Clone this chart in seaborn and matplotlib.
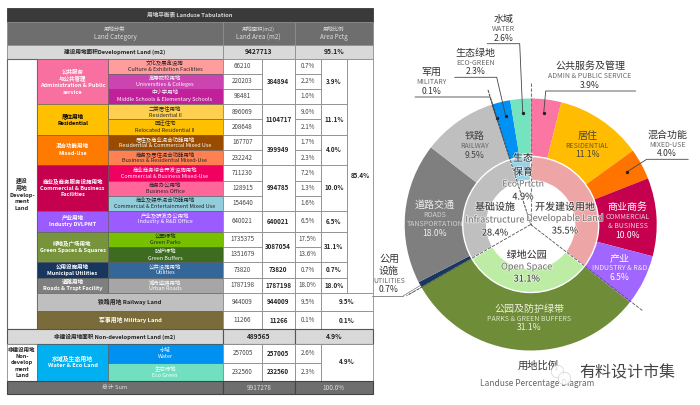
import seaborn as sns
import matplotlib
matplotlib.use('Agg')
import matplotlib.pyplot as plt
import matplotlib.patheffects as pe
from matplotlib.patches import Rectangle

# table data
sub_zh = ['文化及展览设施', '高等院校用地', '中小学用地', '二类居住用地', '回迁住宅', '居住及商业混合功能用地',
          '商务及居住混合功能用地', '商业商务综合开发设施用地', '商务办公用地', '商业及娱乐混合功能用地',
          '产业及研发办公用地', '公园绿地', '防护绿地', '公共设施用地', '城市道路用地']
sub_en = ['Culture & Exhibition Facilities', 'Universities & Colleges', 'Middle Schools & Elementary Schools',
          'Residential II', 'Relocated Residential II', 'Residential & Commercial Mixed Use',
          'Business & Residential Mixed-Use', 'Commercial & Business Mixed-Use', 'Business Office',
          'Commercial & Entertainment Mixed Use', 'Industry & R&D Office', 'Green Parks', 'Green Buffers',
          'Utilities', 'Urban Roads']
sub_area = ['66210', '220203', '98481', '896069', '208648', '167707', '232242', '711230', '128915', '154640',
            '640021', '1735375', '1351679', '73820', '1787198']
sub_pct = ['0.7%', '2.2%', '1.0%', '9.0%', '2.1%', '1.7%', '2.3%', '7.2%', '1.3%', '1.6%',
           '6.5%', '17.5%', '13.6%', '0.7%', '18.0%']
group_zh = ['公共服务\n与公共管理', '居住用地', '混合功能用地', '商业及商务服务设施用地', '产业用地',
            '绿地及广场用地', '公用设施用地', '道路用地']
group_en = ['Administration & Public\nservice', 'Residential', 'Mixed-Use', 'Commercial & Business\nFacilities',
            'Industry DVLPMT', 'Green Spaces & Squares', 'Municipal Utilities', 'Roads & Trspt Facility']
group_area = ['384894', '1104717', '399949', '994785', '640021', '3087054', '73820', '1787198']
group_pct = ['3.9%', '11.1%', '4.0%', '10.0%', '6.5%', '31.1%', '0.7%', '18.0%']
group_count = [3, 2, 2, 3, 1, 2, 1, 1]

# donut data
outer_zh = ['公共服务及管理', '居住', '混合功能', '商业商务', '产业', '公园及防护绿带', '公用设施', '道路交通',
            '铁路', '军用', '生态绿地', '水域']
outer_vals = [3.9, 11.1, 4.0, 10.0, 6.5, 31.1, 0.7, 18.0, 9.5, 0.1, 2.3, 2.6]
inner_zh = ['开发建设用地', '绿地公园', '基础设施', '生态保育']
inner_en = ['Developable Land', 'Open Space', 'Infrastructure', 'Eco Prtctn']
inner_vals = [35.5, 31.1, 28.4, 4.9]

# colours and layout
group_colors = ['#f8709f', '#ffc000', '#ff7a00', '#c4004f', '#9b5cff', '#77933c', '#17375e', '#7f7f7f']
sub_colors = ['#ff9c9c', '#cc44b0', '#c0209a', '#ffd050', '#ffc000', '#994c00', '#ff8050', '#f00060', '#ff6699',
              '#92cddc', '#9b5cff', '#76c000', '#3d6b20', '#336699', '#a6a6a6']
group_text = ['white', 'black', 'white', 'white', 'white', 'white', 'white', 'white']
sub_text = ['#222222', 'white', 'white', '#222222', '#222222', 'white', '#222222', 'white', '#222222',
            '#222222', 'white', '#222222', 'white', 'white', 'white']
outer_colors = ['#fb76a2', '#ffbc00', '#ff7300', '#c4004f', '#a066ff', '#6f8c38', '#17375e', '#7f7f7f',
                '#bfbfbf', '#404040', '#0091f5', '#74e3bf']
inner_colors = ['#eda5a5', '#bdeda5', '#bfbfbf', '#96d2e8']
row_y = [58.7, 73.7, 88.7, 104.3, 119.3, 134.7, 150, 165, 180.7, 195.7, 211, 231.7, 247, 262, 277.7, 292.7]
col_x = [7, 37, 108, 223, 262, 294.5, 321, 347, 373]
TXT = 3.9  # table words
NUM = 4.5  # table numbers

sns.set_theme(style='white')
plt.rcParams['font.family'] = ['Noto Sans CJK SC', 'DejaVu Sans']

fig = plt.figure(figsize=(7, 4.05), dpi=100)
ax = fig.add_axes([0, 0, 1, 1], zorder=2)
ax.set_xlim(0, 700)
ax.set_ylim(405, 0)
ax.axis('off')
ax.patch.set_alpha(0)


def cell(x0, x1, y0, y1, color='white', edge='#8c8c8c', lw=0.6):
    ax.add_patch(Rectangle((x0, y0), x1 - x0, y1 - y0, fc=color, ec=edge, lw=lw))


def put(x, y, s, size=TXT, color='#222222', weight='normal', ha='center', halo=False):
    t = ax.text(x, y, s, fontsize=size, color=color, fontweight=weight, ha=ha, va='center', linespacing=1.35)
    if halo:
        t.set_path_effects([pe.withStroke(linewidth=1.2, foreground='white', alpha=0.6)])
    return t


def mid(a, b):
    return (a + b) / 2


# title, header and subtotal rows
cell(col_x[0], col_x[8], 7.5, 22, '#3a3a3a', '#3a3a3a')
put(190, 14.7, '用地平衡表 Landuse Tabulation', 4.1, '#d8d8d8', 'bold')
cell(col_x[0], col_x[3], 22, 44.5, '#6e6e6e')
cell(col_x[3], col_x[5], 22, 44.5, '#6e6e6e')
cell(col_x[5], col_x[8], 22, 44.5, '#6e6e6e')
for x, zh, en in [(115, '用地分类', 'Land Category'), (mid(col_x[3], col_x[5]), '用地面积(m2)', 'Land Area (m2)'),
                  (mid(col_x[5], col_x[8]), '用地比例', 'Area Pctg')]:
    put(x, 29, zh, TXT, '#dddddd')
    put(x, 37, en, 4.5, '#dddddd')
cell(col_x[0], col_x[3], 44.5, 58.7, '#d9d9d9')
cell(col_x[3], col_x[5], 44.5, 58.7, '#d9d9d9')
cell(col_x[5], col_x[8], 44.5, 58.7, '#d9d9d9')
put(115, 51.5, '建设用地面积Development Land (m2)', 4.1, weight='bold')
put(mid(col_x[3], col_x[5]), 51.5, '9427713', 4.8, weight='bold')
put(mid(col_x[5], col_x[8]), 51.5, '95.1%', 4.8, weight='bold')

# development land body
cell(col_x[0], col_x[1], 58.7, 329.3, 'white', '#666666', 0.8)
put(22, 194, '建设\n用地\nDevelop-\nment\nLand', 4.2, weight='bold')
for i in range(len(sub_zh)):
    y0, y1 = row_y[i], row_y[i + 1]
    cell(col_x[2], col_x[3], y0, y1, sub_colors[i], '#555555', 0.4)
    put(165, y0 + 4.2, sub_zh[i], TXT, sub_text[i])
    put(165, y0 + 11, sub_en[i], TXT, sub_text[i])
    cell(col_x[3], col_x[4], y0, y1)
    put(mid(col_x[3], col_x[4]), mid(y0, y1), sub_area[i], NUM, '#444444')
    cell(col_x[5], col_x[6], y0, y1)
    put(mid(col_x[5], col_x[6]), mid(y0, y1), sub_pct[i], NUM, '#444444')
start = 0
for g in range(len(group_zh)):
    y0, y1 = row_y[start], row_y[start + group_count[g]]
    cell(col_x[1], col_x[2], y0, y1, group_colors[g], '#555555', 0.4)
    put(mid(col_x[1], col_x[2]), mid(y0, y1), group_zh[g] + '\n' + group_en[g], 4.0, group_text[g], 'bold')
    cell(col_x[4], col_x[5], y0, y1)
    put(mid(col_x[4], col_x[5]), mid(y0, y1), group_area[g], NUM, weight='bold')
    cell(col_x[6], col_x[7], y0, y1)
    put(mid(col_x[6], col_x[7]), mid(y0, y1), group_pct[g], NUM, weight='bold')
    start += group_count[g]
cell(col_x[7], col_x[8], 58.7, 292.7)
put(mid(col_x[7], col_x[8]), 175, '85.4%', NUM, weight='bold')

# railway, military
for y0, y1, label, color, tc, area, pct in [(292.7, 311, '铁路用地 Railway Land', '#bfbfbf', '#222222', '944009', '9.5%'),
                                            (311, 329.3, '军事用地 Military Land', '#7a6c3a', 'white', '11266', '0.1%')]:
    cell(col_x[1], col_x[3], y0, y1, color, '#555555', 0.4)
    put(130, mid(y0, y1), label, 4.2, tc, 'bold')
    cell(col_x[3], col_x[4], y0, y1)
    put(mid(col_x[3], col_x[4]), mid(y0, y1), area, NUM, '#444444')
    cell(col_x[4], col_x[5], y0, y1)
    put(mid(col_x[4], col_x[5]), mid(y0, y1), area, NUM, weight='bold')
    cell(col_x[5], col_x[6], y0, y1)
    put(mid(col_x[5], col_x[6]), mid(y0, y1), pct, NUM, '#444444')
    cell(col_x[6], col_x[8], y0, y1)
    put(mid(col_x[6], col_x[8]), mid(y0, y1), pct, NUM, weight='bold')

# non-development land
cell(col_x[0], col_x[3], 329.3, 344, '#d9d9d9', '#555555', 0.8)
put(115, 336.5, '非建设用地面积 Non-development Land (m2)', 4.1, weight='bold')
cell(col_x[3], col_x[5], 329.3, 344, '#d9d9d9', '#555555', 0.8)
put(mid(col_x[3], col_x[5]), 336.5, '489565', 4.8, weight='bold')
cell(col_x[5], col_x[8], 329.3, 344, '#d9d9d9', '#555555', 0.8)
put(mid(col_x[5], col_x[8]), 336.5, '4.9%', 4.8, weight='bold')
cell(col_x[0], col_x[1], 344, 380.7)
put(22, 362.5, '非建设用地\nNon-\ndevelop\nment\nLand', 4.0, weight='bold')
cell(col_x[1], col_x[2], 344, 380.7, '#00b0f0', '#555555', 0.4)
put(mid(col_x[1], col_x[2]), 362, '水域及生态用地\nWater & Eco Land', 4.2, 'white', 'bold')
for y0, y1, zh, en, color, area, pct in [(344, 362.7, '水域', 'Water', '#0090f0', '257005', '2.6%'),
                                         (362.7, 380.7, '生态绿地', 'Eco Green', '#70e0c0', '232560', '2.3%')]:
    cell(col_x[2], col_x[3], y0, y1, color, '#555555', 0.4)
    put(165, mid(y0, y1), zh + '\n' + en, TXT, 'white')
    cell(col_x[3], col_x[4], y0, y1)
    put(mid(col_x[3], col_x[4]), mid(y0, y1), area, NUM, '#444444')
    cell(col_x[4], col_x[5], y0, y1)
    put(mid(col_x[4], col_x[5]), mid(y0, y1), area, NUM, weight='bold')
    cell(col_x[5], col_x[6], y0, y1)
    put(mid(col_x[5], col_x[6]), mid(y0, y1), pct, NUM, '#444444')
cell(col_x[6], col_x[8], 344, 380.7)
put(mid(col_x[6], col_x[8]), 362, '4.9%', NUM, weight='bold')

# total
cell(col_x[0], col_x[3], 380.7, 394.3, '#6e6e6e', '#444444', 0.8)
put(115, 387.5, '总计 Sum', 4.2, '#dddddd')
cell(col_x[3], col_x[5], 380.7, 394.3, '#6e6e6e', '#444444', 0.8)
put(mid(col_x[3], col_x[5]), 387.5, '9917278', 4.6, '#dddddd')
cell(col_x[5], col_x[8], 380.7, 394.3, '#6e6e6e', '#444444', 0.8)
put(mid(col_x[5], col_x[8]), 387.5, '100.0%', 4.6, '#dddddd')

# donut, 126 px outer radius around (530.7, 224.5)
cx, cy, R = 530.7, 224.5, 126
span = 130
dax = fig.add_axes([(cx - span) / 700, 1 - (cy + span) / 405, 2 * span / 700, 2 * span / 405], zorder=1)
dax.pie(outer_vals, colors=outer_colors, radius=R, startangle=90, counterclock=False, frame=False,
        wedgeprops=dict(width=R - 68, edgecolor='none'))
dax.pie(inner_vals, colors=inner_colors, radius=68, startangle=90, counterclock=False, frame=False,
        wedgeprops=dict(width=24, edgecolor='white', linewidth=1))
dax.set_xlim(-span, span)
dax.set_ylim(-span, span)
sns.despine(ax=dax, left=True, bottom=True)

# leader lines
leaders = [([487.3, 519.7, 522.7], [43.7, 43.7, 113]), ([454.7, 496.7, 505.7], [77.3, 77.3, 116]),
           ([415, 490, 496.7], [97, 97, 118]), ([635.7, 545.7, 543.7], [91, 91, 113]),
           ([688.3, 646.7, 626.7], [159.3, 159.3, 172])]
for xs, ys in leaders:
    ax.plot(xs, ys, color='#444444', lw=0.6)
    ax.plot(xs[-1], ys[-1], 'o', color='#222222', ms=1.4)
ax.plot([372, 403], [296, 296], color='#777777', lw=0.6)
ax.plot([403, 421], [296, 285], color='#777777', lw=0.5)
ax.plot([406, 422], [296, 287], color='#777777', lw=0.5, ls=(0, (3, 1.5)))
ax.plot([530.7, cx], [83, cy], color='#777777', lw=0.8, ls=(0, (3, 1.5)))
ax.plot([488, cx], [90, cy], color='#444444', lw=0.7, ls=(0, (3, 1)))
ax.plot([cx, 643], [cy, 311], color='#555555', lw=0.6, ls=(0, (4, 1.5)))
ax.plot([cx, 408], [cy, 295], color='#555555', lw=0.6, ls=(0, (4, 1.5)))


def label3(x, y, zh, en, pct, tc='#333333', ec='#666666', gap=10):
    put(x, y, zh, 7.2, tc)
    lines = en.split('\n')
    for i, line in enumerate(lines):
        put(x, y + gap + i * 8.7, line, 5, ec)
    put(x, y + gap + len(lines) * 9.2, pct, 6.2, tc)


fmt = ['%.1f%%' % v for v in outer_vals]
label3(503.7, 19, outer_zh[11], 'WATER', fmt[11])
label3(475.7, 52.7, outer_zh[10], 'ECO-GREEN', fmt[10])
label3(431.7, 72, outer_zh[9], 'MILITARY', fmt[9])
label3(590, 66.3, outer_zh[0], 'ADMIN & PUBLIC SERVICE', fmt[0])
label3(667.3, 134.7, outer_zh[2], 'MIXED-USE', fmt[2])
label3(475, 136, outer_zh[8], 'RAILWAY', fmt[8], '#444444')
label3(587.3, 135.7, outer_zh[1], 'RESIDENTIAL', fmt[1], '#444444', '#665522')
label3(435, 205, outer_zh[7], 'ROADS\nTANSPORTATION', fmt[7], '#eeeeee', '#d0d0d0')
label3(627.7, 207, outer_zh[3], 'COMMERCIAL\n& BUSINESS', fmt[3], 'white', '#f0d0dc')
label3(619.3, 258, outer_zh[4], 'INDUSTRY & R&D', fmt[4], 'white', '#eeeeee')
label3(529, 308.7, outer_zh[5], 'PARKS & GREEN BUFFERS', fmt[5], '#eef2e0', '#dde5c8')
put(389, 259, outer_zh[6][:2], 7.2, '#333333')
put(389, 271, outer_zh[6][2:], 7.2, '#333333')
put(389, 281, 'UTILITIES', 5, '#666666')
put(389, 290, fmt[6], 6.2, '#333333')

# inner ring labels
for x, y, zh, en, v, dy in [(565, 207, inner_zh[0], inner_en[0], inner_vals[0], 11.5),
                            (526.7, 255, inner_zh[1], inner_en[1], inner_vals[1], 12),
                            (495, 207, inner_zh[2], inner_en[2], inner_vals[2], 13)]:
    put(x, y, zh, 7.2, '#333333', halo=True)
    put(x, y + dy, en, 6.6, '#777777', halo=True)
    put(x, y + 2 * dy + (1 if dy < 12 else 0), '%.1f%%' % v, 6.6, '#333333', halo=True)
put(523, 158, inner_zh[3][:2], 7.2, '#333333', halo=True)
put(523, 172, inner_zh[3][2:], 7.2, '#333333', halo=True)
put(523, 184, inner_en[3], 6.2, '#777777', halo=True)
put(523, 197, '%.1f%%' % inner_vals[3], 6.6, '#333333', halo=True)

# caption and watermark
put(538, 366, '用地比例', 7.4, '#333333')
put(537, 384, 'Landuse Percentage Diagram', 6, '#666666')
ax.plot([557, 564], [371, 378], 'o', color='white', ms=9, alpha=0.8, mec='#bbbbbb', mew=0.4, zorder=5)
put(627, 372.5, '有料设计市集', 11.5, '#444444')

fig.savefig('out.png', dpi=100)
